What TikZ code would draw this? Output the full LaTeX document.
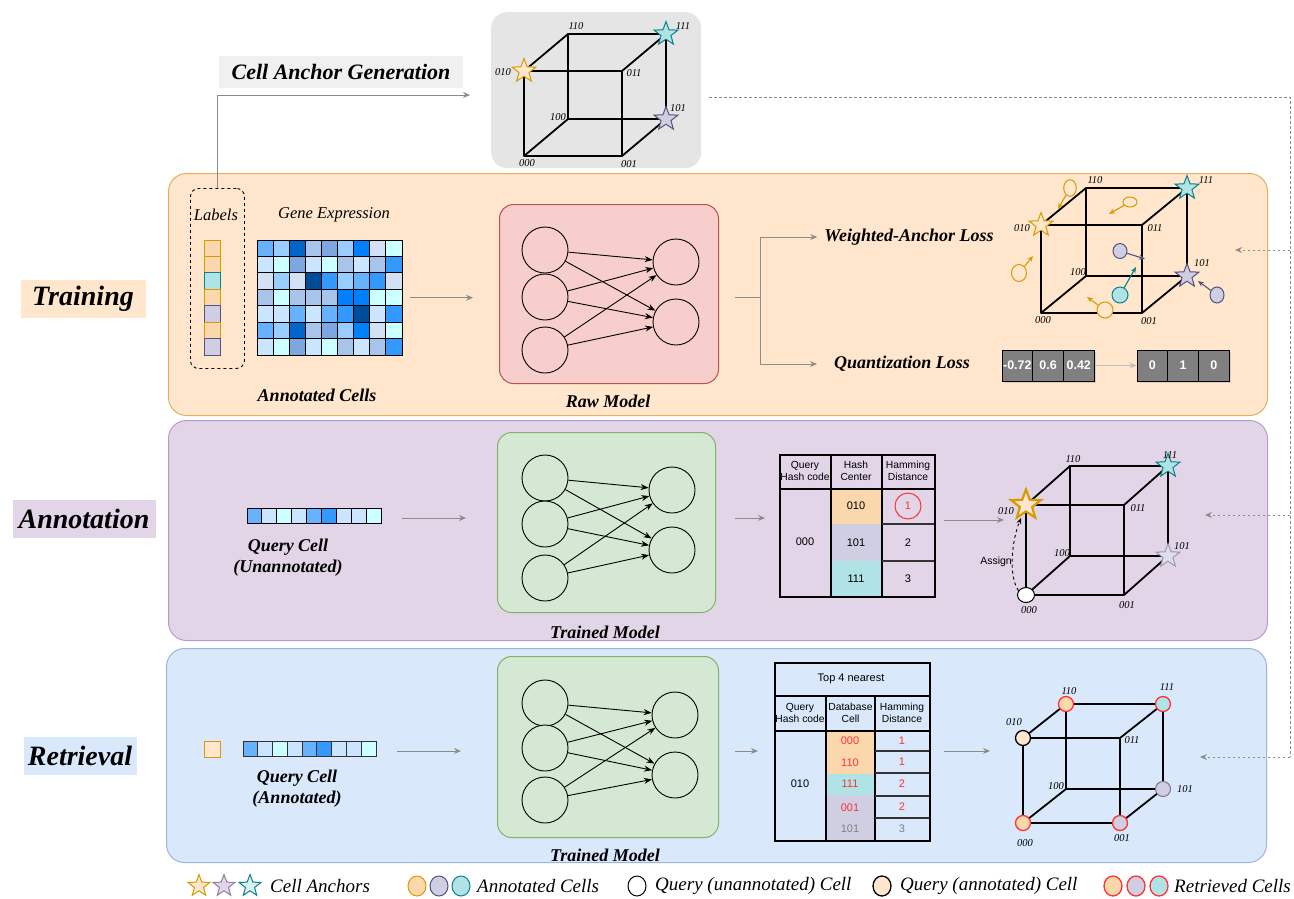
\documentclass[tikz,border=0pt]{standalone}
\usepackage{fontspec}
\setmainfont{Liberation Serif}
\newfontfamily\tabfont{Liberation Sans}
\usetikzlibrary{shapes.geometric,arrows.meta,calc,shadows}
\definecolor{trainbg}{HTML}{FFE6CC}\definecolor{trainbd}{HTML}{E0B060}
\definecolor{annbg}{HTML}{E1D5E7}\definecolor{annbd}{HTML}{B89CC8}
\definecolor{retbg}{HTML}{DAE8FC}\definecolor{retbd}{HTML}{9DB5DB}
\definecolor{rawfill}{HTML}{F8CECC}\definecolor{rawdraw}{HTML}{B85450}
\definecolor{trfill}{HTML}{D5E8D4}\definecolor{trdraw}{HTML}{82B366}
\definecolor{fO}{HTML}{FAD7AC}\definecolor{dO}{HTML}{D79B00}
\definecolor{fT}{HTML}{B0E3E6}\definecolor{dT}{HTML}{0E8088}
\definecolor{fP}{HTML}{D0CEE2}\definecolor{dP}{HTML}{56517E}
\definecolor{starO}{HTML}{FFE6CC}
\definecolor{redc}{HTML}{FF3333}
\definecolor{hA}{HTML}{66B2FF}\definecolor{hB}{HTML}{99CCFF}\definecolor{hC}{HTML}{0066CC}
\definecolor{hD}{HTML}{A9C4EB}\definecolor{hE}{HTML}{7EA6E0}\definecolor{hF}{HTML}{007FFF}
\definecolor{hG}{HTML}{D4E1F5}\definecolor{hH}{HTML}{CCFFFF}\definecolor{hI}{HTML}{004C99}
\definecolor{hJ}{HTML}{3399FF}\definecolor{hK}{HTML}{CCE5FF}
\newcommand{\hcube}[7]{%
 \coordinate (#1-000) at (#2,#3);
 \coordinate (#1-001) at ($(#1-000)+(#4,0)$);
 \coordinate (#1-010) at ($(#1-000)+(0,-#5)$);
 \coordinate (#1-011) at ($(#1-000)+(#4,-#5)$);
 \coordinate (#1-100) at ($(#1-000)+(#6,-#7)$);
 \coordinate (#1-101) at ($(#1-100)+(#4,0)$);
 \coordinate (#1-110) at ($(#1-100)+(0,-#5)$);
 \coordinate (#1-111) at ($(#1-100)+(#4,-#5)$);
 \draw[cubeedge] (#1-100) -- (#1-101) -- (#1-111) -- (#1-110) -- cycle;
 \draw[cubeedge] (#1-000) -- (#1-100) (#1-001) -- (#1-101) (#1-010) -- (#1-110) (#1-011) -- (#1-111);
 \draw[cubeedge] (#1-000) -- (#1-001) -- (#1-011) -- (#1-010) -- cycle;
}
\tikzset{
 panel/.style={rounded corners=18pt, line width=1pt, anchor=north west, inner sep=0},
 sectlabel/.style={font=\fontsize{28}{32}\selectfont\bfseries\itshape, minimum height=38pt, inner sep=0},
 captxt/.style={font=\fontsize{18}{21}\selectfont\bfseries\itshape, align=center, inner sep=0},
 capi/.style={font=\fontsize{16.5}{19}\selectfont\itshape, inner sep=0},
 cl/.style={font=\fontsize{10.5}{12}\selectfont\itshape, inner sep=0},
 cubeedge/.style={line width=1.8pt, line join=round},
 garrow/.style={draw=black!45, line width=1pt, -{Stealth[length=7pt,width=6pt]}},
 gline/.style={draw=black!45, line width=1pt},
 dotline/.style={draw=black!45, line width=0.9pt, dash pattern=on 2.5pt off 2.5pt},
 dotarrow/.style={dotline, -{Stealth[length=7pt,width=6pt]}},
 neuron/.style={circle, draw=black, line width=0.9pt, minimum size=46pt, inner sep=0},
 nnarrow/.style={line width=0.9pt, -{Stealth[length=8pt,width=6pt]}},
 anchorstar/.style={star, star points=5, star point ratio=2.4, minimum size=25pt, inner sep=0, line width=1pt},
 tabtxt/.style={font=\tabfont\fontsize{11}{12.5}\selectfont, align=center, inner sep=0},
 tabhead/.style={font=\tabfont\fontsize{10.3}{12}\selectfont, align=center, inner sep=0},
 qcell/.style={minimum width=30.7pt, minimum height=31pt, fill=black!50, draw=black, line width=0.9pt, text=white, font=\tabfont\fontsize{12.5}{14}\selectfont\bfseries, inner sep=0},
 blob/.style={ellipse, line width=1pt, inner sep=0},
 legt/.style={font=\fontsize{19}{22}\selectfont\itshape, anchor=west, inner sep=0},
 vdot/.style={circle, minimum size=15pt, inner sep=0, line width=1.3pt},
 legc/.style={ellipse, minimum width=18pt, minimum height=20pt, inner sep=0, line width=1pt},
}
\begin{document}
\begin{tikzpicture}[x=1pt,y=-1pt]
\useasboundingbox[fill=white] (0,0) rectangle (1294,898);

% ---------- panels ----------
\node[panel, fill=trainbg, draw=trainbd, minimum width=1099pt, minimum height=242pt] (trainpanel) at (168,173) {};
\node[panel, fill=annbg, draw=annbd, minimum width=1099pt, minimum height=220pt] (annpanel) at (168,420) {};
\node[panel, fill=retbg, draw=retbd, minimum width=1100pt, minimum height=214pt] (retpanel) at (166,648) {};

\node[sectlabel, fill=trainbg, minimum width=125pt] (ltrain) at (83,299) {Training};
\node[sectlabel, fill=annbg, minimum width=143pt] (lann) at (84,519) {Annotation};
\node[sectlabel, fill=retbg, minimum width=113pt] (lret) at (80,756) {Retrieval};

% ---------- top: cell anchor generation ----------
\node[fill=black!10, rounded corners=16pt, minimum width=210pt, minimum height=156pt, anchor=north west] (anchorbox) at (491,12) {};
\node[fill=black!6, font=\fontsize{22}{26}\selectfont\bfseries\itshape, minimum width=244pt, minimum height=32pt, inner sep=0] (cag) at (341,72) {Cell Anchor Generation};
\hcube{tc}{524}{156}{98}{85}{44}{37}
\node[anchorstar, fill=starO, draw=dO] (ts1) at (tc-010) {};
\node[anchorstar, fill=fT, draw=dT] (ts2) at (tc-111) {};
\node[anchorstar, fill=fP, draw=dP] (ts3) at (tc-101) {};
\node[cl] at (576,26) {110};
\node[cl] at (683,26) {111};
\node[cl] at (503,72) {010};
\node[cl] at (634,73) {011};
\node[cl] at (558,117) {100};
\node[cl] at (678,108) {101};
\node[cl] at (527,163) {000};
\node[cl] at (629,164) {001};

% ---------- training ----------
\node[draw=black, dashed, rounded corners=8pt, line width=0.9pt, minimum width=54pt, minimum height=180pt, anchor=north west] (labelsbox) at (190,188) {};
\node[capi] (labelstxt) at (216,215) {Labels};
\foreach \c [count=\i] in {O,O,T,O,P,O,P}
  \filldraw[fill=f\c, draw=d\c, line width=0.9pt] (204,{240+(\i-1)*16.43}) rectangle ++(16.7,16.43);
\node[capi] (genetxt) at (334,215) {Gene Expression};
\node[minimum width=145pt, minimum height=115pt, anchor=north west, inner sep=0] (heat) at (257,240) {};
\foreach \row [count=\r] in {{A,B,C,D,E,B,F,G,H},{K,H,E,K,H,D,K,D,J},{G,B,G,I,J,B,A,J,G},{D,H,D,D,D,F,F,H,H},{K,K,A,K,A,J,I,K,J},{A,B,C,D,E,B,F,G,H},{K,H,E,K,H,D,K,D,J}}
  \foreach \c [count=\k] in \row
    \filldraw[fill=h\c, draw=black, line width=0.9pt] ({257+(\k-1)*16.11},{240+(\r-1)*16.43}) rectangle ++(16.11,16.43);
\node[captxt] (annotcells) at (317,395) {Annotated Cells};

\coordinate (cagend) at (470,95);
\draw[garrow] (labelsbox.north) |- (cagend);

\draw[garrow, shorten <=8pt, shorten >=26pt] (heat.east) -- (heat.east -| 499,0);

\node[rounded corners=14pt, fill=rawfill, draw=rawdraw, line width=1pt, minimum width=219pt, minimum height=179pt, anchor=north west] (raw) at (499,204) {};
\node[neuron, fill=rawfill] (r1) at (545,250) {};
\node[neuron, fill=rawfill] (r2) at (545,297) {};
\node[neuron, fill=rawfill] (r3) at (545,350) {};
\node[neuron, fill=rawfill] (r4) at (676,262) {};
\node[neuron, fill=rawfill] (r5) at (676,322) {};
\foreach \a in {r1,r2,r3} \foreach \b in {r4,r5} \draw[nnarrow] (\a) -- (\b);
\node[captxt] (rawtxt) at (608,401) {Raw Model};

\coordinate (tb1) at (735,297);
\coordinate (tb2) at (760,297);
\node[captxt] (wal) at (909,237) {Weighted-Anchor Loss};
\node[captxt] (ql) at (902,364) {Quantization Loss};
\draw[gline] (tb1) -- (tb2);
\draw[garrow] (tb2) |- ([xshift=-7pt]wal.west);
\draw[garrow] (tb2) |- ([xshift=-17pt]ql.west);

% quantization cells
\node[qcell, drop shadow={opacity=0.25, shadow xshift=2pt, shadow yshift=-2pt}] (q1) at (1017.35,365.5) {-0.72};
\node[qcell, drop shadow={opacity=0.25, shadow xshift=2pt, shadow yshift=-2pt}] (q2) at (1048.05,365.5) {0.6};
\node[qcell, drop shadow={opacity=0.25, shadow xshift=2pt, shadow yshift=-2pt}] (q3) at (1078.75,365.5) {0.42};
\node[qcell, drop shadow={opacity=0.25, shadow xshift=2pt, shadow yshift=-2pt}] (q4) at (1152.35,365.5) {0};
\node[qcell, drop shadow={opacity=0.25, shadow xshift=2pt, shadow yshift=-2pt}] (q5) at (1183.05,365.5) {1};
\node[qcell, drop shadow={opacity=0.25, shadow xshift=2pt, shadow yshift=-2pt}] (q6) at (1213.75,365.5) {0};
\draw[draw=black!25, line width=1pt, -{Stealth[length=7pt,width=6pt]}] (q3) -- (q4);

% training cube
\hcube{rc}{1041}{313}{101}{88}{45}{37}
\node[anchorstar, fill=starO, draw=dO] (rs1) at (rc-010) {};
\node[anchorstar, fill=fT, draw=dT] (rs2) at (rc-111) {};
\node[anchorstar, fill=fP, draw=dP] (rs3) at (rc-101) {};
\node[cl] at (1095,180) {110};
\node[cl] at (1206,180) {111};
\node[cl] at (1022,228) {010};
\node[cl] at (1155,228) {011};
\node[cl] at (1078,272) {100};
\node[cl] at (1202,263) {101};
\node[cl] at (1043,320) {000};
\node[cl] at (1149,321) {001};
% moving cells
\node[blob, fill=starO, draw=dO, minimum width=12.6pt, minimum height=16.6pt] (b1) at (1070,188) {};
\node[blob, fill=starO, draw=dO, minimum width=14pt, minimum height=10pt] (b2) at (1130,202) {};
\node[blob, fill=starO, draw=dO, minimum width=15pt, minimum height=17pt] (b3) at (1019,273) {};
\node[blob, fill=starO, draw=dO, minimum width=16pt, minimum height=16pt] (b4) at (1105,310) {};
\node[blob, fill=fP, draw=dP, minimum width=14pt, minimum height=15pt] (b5) at (1120,251) {};
\node[blob, fill=fT, draw=dT, minimum width=16pt, minimum height=16pt] (b6) at (1120,295) {};
\node[blob, fill=fP, draw=dP, minimum width=14pt, minimum height=16pt] (b7) at (1217,295) {};
\coordinate (e1) at (1058,209);
\coordinate (e2) at (1109,214);
\coordinate (e3) at (1033,256);
\coordinate (e4) at (1087,297);
\coordinate (e5) at (1145,259);
\coordinate (e6) at (1136,267);
\coordinate (e7) at (1198,281);
\foreach \b/\e/\col in {b1/e1/dO,b2/e2/dO,b3/e3/dO,b4/e4/dO,b5/e5/dP,b6/e6/dT,b7/e7/dP}
  \draw[draw=\col, line width=1.1pt, -{Stealth[length=6pt,width=5pt]}] (\b) -- (\e);

% ---------- right dotted feed ----------
\coordinate (d0) at (709,97);
\coordinate (d1) at (1290,97);
\coordinate (d2) at (1290,250);
\coordinate (d3) at (1290,515);
\coordinate (d4) at (1290,757);
\coordinate (d2e) at (1235,250);
\coordinate (d3e) at (1205,515);
\coordinate (d4e) at (1200,757);
\draw[dotline] (d0) -- (d1) -- (d4);
\draw[dotarrow] (d2) -- (d2e);
\draw[dotarrow] (d3) -- (d3e);
\draw[dotarrow] (d4) -- (d4e);

% ---------- annotation ----------
\node[minimum width=134pt, minimum height=15pt, anchor=north west, inner sep=0] (aq) at (247,508) {};
\foreach \c [count=\k] in {A,K,H,K,A,J,K,K,H}
  \filldraw[fill=h\c, draw=black, line width=0.9pt] ({247+(\k-1)*14.9},508) rectangle ++(14.9,15);
\node[captxt] (aqtxt) at (288,558) {Query Cell\\(Unannotated)};
\coordinate (a1s) at (402,518);
\coordinate (a1e) at (466,518);
\draw[garrow] (a1s) -- (a1e);

\node[rounded corners=14pt, fill=trfill, draw=trdraw, line width=1pt, minimum width=218pt, minimum height=180pt, anchor=north west] (tr1) at (497,432) {};
\node[neuron, fill=trfill] (t1) at (545,478) {};
\node[neuron, fill=trfill] (t2) at (545,524) {};
\node[neuron, fill=trfill] (t3) at (545,578) {};
\node[neuron, fill=trfill] (t4) at (672,490) {};
\node[neuron, fill=trfill] (t5) at (672,550) {};
\foreach \a in {t1,t2,t3} \foreach \b in {t4,t5} \draw[nnarrow] (\a) -- (\b);
\node[captxt] (tr1txt) at (605,632) {Trained Model};
\coordinate (a2s) at (735,518);
\coordinate (a2e) at (765,518);
\draw[garrow] (a2s) -- (a2e);

% annotation table
\fill[fO] (831,489) rectangle (882,524);
\fill[fP] (831,524) rectangle (882,561);
\fill[fT] (831,561) rectangle (882,596);
\draw[line width=1.4pt] (779,489) -- (934,489) (831,454) -- (831,596) (882,454) -- (882,596);
\draw[line width=1.2pt, draw=black!80] (882,524) -- (934,524) (882,561) -- (934,561);
\node[draw=black, line width=1.5pt, minimum width=155pt, minimum height=142pt, anchor=north west, inner sep=0] (atab) at (779,454) {};
\node[tabhead] at (805,471) {Query\\Hash code};
\node[tabhead] at (856,471) {Hash\\Center};
\node[tabhead] at (908,471) {Hamming\\Distance};
\node[tabtxt] at (805,542) {000};
\node[tabtxt] at (856,506) {010};
\node[tabtxt] at (856,543) {101};
\node[tabtxt] at (856,579) {111};
\node[tabtxt, text=redc] at (908,506) {1};
\node[circle, draw=redc, line width=1pt, minimum size=26pt] (redring) at (908,506) {};
\node[tabtxt] at (908,543) {2};
\node[tabtxt] at (908,579) {3};
\coordinate (a3s) at (944,520);
\coordinate (a3e) at (1004,520);
\draw[garrow] (a3s) -- (a3e);

% annotation cube
\hcube{ac}{1026}{595}{98}{90}{44}{39}
\node[anchorstar, fill=starO, draw=dO, line width=2.2pt, minimum size=31pt] (as1) at (ac-010) {};
\node[anchorstar, fill=fT, draw=dT] (as2) at (ac-111) {};
\node[anchorstar, fill=fP!70!white, draw=dP!60!white] (as3) at (ac-101) {};
\node[ellipse, fill=white, draw=black, line width=1pt, minimum width=17pt, minimum height=15pt, inner sep=0] (aqc) at (ac-000) {};
\coordinate (assignend) at (1021,518);
\draw[dashed, line width=0.9pt, -{Stealth[length=6pt,width=5pt]}] (aqc.150) .. controls (1008,575) and (1012,540) .. (assignend);
\node[tabtxt, font=\tabfont\fontsize{10.5}{12}\selectfont] (assign) at (996,562) {Assign};
\node[cl] at (1073,459) {110};
\node[cl] at (1170,455) {111};
\node[cl] at (1006,511) {010};
\node[cl] at (1138,508) {011};
\node[cl] at (1062,553) {100};
\node[cl] at (1182,546) {101};
\node[cl] at (1029,610) {000};
\node[cl] at (1127,605) {001};

% ---------- retrieval ----------
\node[draw=dO, fill=starO, line width=1pt, minimum width=16pt, minimum height=16pt, anchor=north west, inner sep=0] (rsq) at (204,741) {};
\node[minimum width=133pt, minimum height=15pt, anchor=north west, inner sep=0] (rq) at (243,741) {};
\foreach \c [count=\k] in {A,K,H,K,A,J,K,K,H}
  \filldraw[fill=h\c, draw=black!80, line width=0.9pt] ({243+(\k-1)*14.78},741) rectangle ++(14.78,15);
\node[captxt] (rqtxt) at (297,789) {Query Cell\\(Annotated)};
\coordinate (r1s) at (397,751);
\coordinate (r1e) at (461,751);
\draw[garrow] (r1s) -- (r1e);

\node[rounded corners=14pt, fill=trfill, draw=trdraw, line width=1pt, minimum width=221pt, minimum height=181pt, anchor=north west] (tr2) at (497,656) {};
\node[neuron, fill=trfill] (u1) at (545,703) {};
\node[neuron, fill=trfill] (u2) at (545,748) {};
\node[neuron, fill=trfill] (u3) at (545,800) {};
\node[neuron, fill=trfill] (u4) at (675,715) {};
\node[neuron, fill=trfill] (u5) at (675,775) {};
\foreach \a in {u1,u2,u3} \foreach \b in {u4,u5} \draw[nnarrow] (\a) -- (\b);
\node[captxt] (tr2txt) at (605,855) {Trained Model};
\coordinate (r2s) at (735,751);
\coordinate (r2e) at (758,751);
\draw[garrow] (r2s) -- (r2e);

% retrieval table
\fill[fO] (826,731) rectangle (875,774);
\fill[fT] (826,774) rectangle (875,795);
\fill[fP] (826,795) rectangle (875,840);
\draw[line width=1.4pt] (774,696) -- (929,696) (774,731) -- (929,731) (826,696) -- (826,840) (875,696) -- (875,840);
\draw[line width=1.2pt, draw=black!80] (875,751) -- (929,751) (875,773) -- (929,773) (875,796) -- (929,796) (875,818) -- (929,818);
\node[draw=black, line width=1.5pt, minimum width=155pt, minimum height=178pt, anchor=north west, inner sep=0] (rtab) at (774,662) {};
\node[tabtxt] at (851,679) {Top 4 nearest};
\node[tabhead] at (800,713) {Query\\Hash code};
\node[tabhead] at (850.5,713) {Database\\Cell};
\node[tabhead] at (902,713) {Hamming\\Distance};
\node[tabtxt] at (800,784) {010};
\node[tabtxt, text=redc] at (850,741) {000};
\node[tabtxt, text=redc] at (850,763) {110};
\node[tabtxt, text=redc] at (850,784) {111};
\node[tabtxt, text=redc] at (850,808) {001};
\node[tabtxt, text=black!50] at (850,829) {101};
\node[tabtxt, text=redc] at (902,741) {1};
\node[tabtxt, text=redc] at (902,762) {1};
\node[tabtxt, text=redc] at (902,784) {2};
\node[tabtxt, text=redc] at (902,807) {2};
\node[tabtxt, text=black!50] at (902,829) {3};
\coordinate (r3s) at (944,751);
\coordinate (r3e) at (990,751);
\draw[garrow] (r3s) -- (r3e);

% retrieval cube
\hcube{qc}{1023}{823}{97}{85}{43}{34}
\node[vdot, fill=fO, draw=redc] (qd110) at (qc-110) {};
\node[vdot, fill=fT, draw=redc] (qd111) at (qc-111) {};
\node[vdot, fill=starO, draw=black] (qd010) at (qc-010) {};
\node[vdot, fill=fO, draw=redc] (qd000) at (qc-000) {};
\node[vdot, fill=fP, draw=redc] (qd001) at (qc-001) {};
\node[vdot, fill=fP, draw=dP!80, line width=1pt] (qd101) at (qc-101) {};
\node[cl] at (1069,691) {110};
\node[cl] at (1167,687) {111};
\node[cl] at (1014,722) {010};
\node[cl] at (1132,740) {011};
\node[cl] at (1056,786) {100};
\node[cl] at (1185,789) {101};
\node[cl] at (1025,843) {000};
\node[cl] at (1122,838) {001};

% ---------- legend ----------
\node[anchorstar, fill=starO, draw=dO, minimum size=23pt] (ls1) at (199,886) {};
\node[anchorstar, fill=annbg, draw=annbd!80!black, minimum size=23pt] (ls2) at (224,886) {};
\node[anchorstar, fill=fT!45!white, draw=dT, minimum size=23pt] (ls3) at (250,886) {};
\node[legt] (lt1) at (270,886) {Cell Anchors};
\node[legc, fill=fO, draw=dO] (lc1) at (417,886) {};
\node[legc, fill=fP, draw=dP] (lc2) at (439,886) {};
\node[legc, fill=fT, draw=dT] (lc3) at (461,886) {};
\node[legt] (lt2) at (477,886) {Annotated Cells};
\node[legc, fill=white, draw=black] (lc4) at (637,886) {};
\node[legt] (lt3) at (655,886) {Query (unannotated) Cell};
\node[legc, fill=starO, draw=black, line width=1.3pt] (lc5) at (882,886) {};
\node[legt] (lt4) at (900,886) {Query (annotated) Cell};
\node[legc, fill=fO, draw=redc, line width=1.3pt] (lc6) at (1113,886) {};
\node[legc, fill=fP, draw=redc, line width=1.3pt] (lc7) at (1136,886) {};
\node[legc, fill=fT, draw=redc, line width=1.3pt] (lc8) at (1159,886) {};
\node[legt] (lt5) at (1174,886) {Retrieved Cells};
\end{tikzpicture}
\end{document}
